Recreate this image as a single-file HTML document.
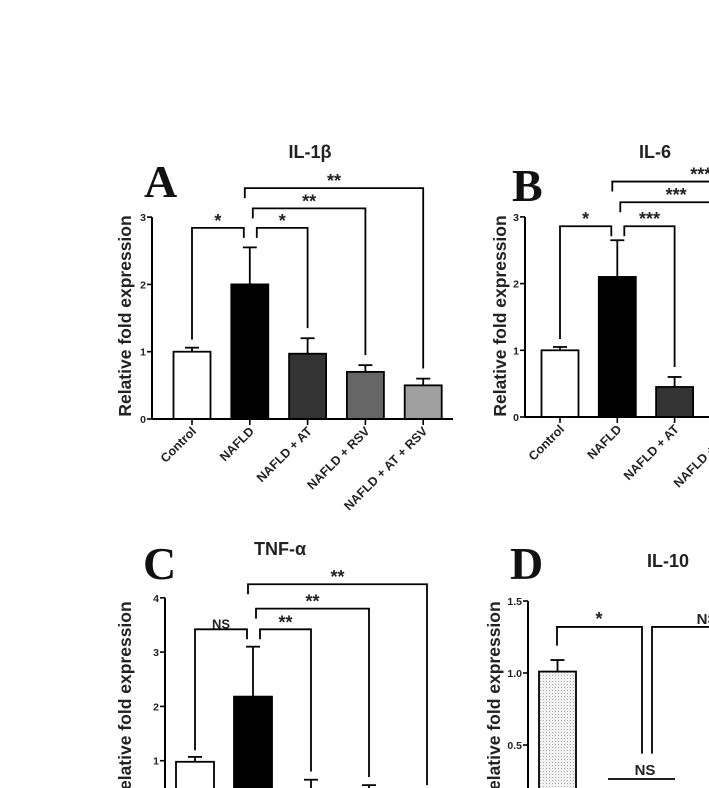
<!DOCTYPE html>
<html><head><meta charset="utf-8"><style>
html,body{margin:0;padding:0;background:#fff;width:709px;height:788px;overflow:hidden;}
svg{display:block;font-family:"Liberation Sans",Arial,sans-serif;}
</style></head><body>
<svg id="fig" width="709" height="788" viewBox="0 0 709 788" xmlns="http://www.w3.org/2000/svg">
<defs>
<pattern id="dots" width="3" height="3" patternUnits="userSpaceOnUse"><rect width="3" height="3" fill="#f2f2f2"/><rect width="1" height="1" fill="#aaa"/></pattern>
</defs>
</svg>
<script>
const groups = ["Control","NAFLD","NAFLD + AT","NAFLD + RSV","NAFLD + AT + RSV"];
const il1bValues = [1.0, 2.0, 0.97, 0.7, 0.5];
const il1bErrors = [0.06, 0.55, 0.23, 0.1, 0.1];
const il6Values = [1.0, 2.1, 0.45, 0.4, 0.4];
const il6Errors = [0.05, 0.55, 0.15, 0.1, 0.1];
const tnfValues = [0.98, 2.18, 0.45, 0.45, 0.3];
const tnfErrors = [0.09, 0.92, 0.2, 0.1, 0.1];
const il10Values = [1.01];
const il10Errors = [0.08];
const ticksA = [0,1,2,3];
const ticksB = [0,1,2,3];
const ticksC = [1,2,3,4];
const ticksD = ["0.5","1.0","1.5"];
// brackets: [fromIdx, toIdx, levelValue, label]
const bracketsA = [[0,1,2.84,"*"],[1,2,2.84,"*"],[1,3,3.13,"**"],[1,4,3.43,"**"]];
const bracketsB = [[0,1,2.86,"*"],[1,2,2.86,"***"],[1,3,3.22,"***"],[1,4,3.53,"***"]];
const bracketsC = [[0,1,3.42,"NS"],[1,2,3.42,"**"],[1,3,3.8,"**"],[1,4,4.25,"**"]];

const svg = document.getElementById('fig');
const NS = 'http://www.w3.org/2000/svg';
function mk(tag, attrs, parent){ const e=document.createElementNS(NS,tag); for(const k in attrs) e.setAttribute(k,attrs[k]); (parent||svg).appendChild(e); return e; }
function txt(str, attrs, parent){ const e=mk('text',attrs,parent); e.textContent=str; return e; }
const fills = ["#fff","#000","#333","#666","#a0a0a0"];

function panel(p){
  const g = mk('g',{});
  
  
  const y = v => p.y0 - v*p.unit;
  const x = i => p.c0 + i*p.step;
  const L = txt(p.letter,{x:p.letterX,y:p.letterY,'font-family':'"Liberation Serif",serif','font-weight':'bold','font-size':46,fill:'#111'},g);
  
  
  const T = txt(p.title,{x:p.titleX,y:p.titleY,'text-anchor':'middle','font-weight':'bold','font-size':18,fill:'#222'},g);
  
  
  const YL = txt("Relative fold expression",{x:0,y:0,'text-anchor':'middle','font-weight':'bold','font-size':17.5,fill:'#222',transform:`translate(${p.ylx},${p.yly}) rotate(-90)`},g);
  
  
  p.values.forEach((v,i)=>{
    const cx=x(i), w=p.bw;
    const top=y(v), et=y(v+p.errors[i]);
    const eb = mk('line',{x1:cx,x2:cx,y1:top,y2:et,stroke:'#000','stroke-width':1.8},g);
    
    
    mk('line',{x1:cx-7,x2:cx+7,y1:et,y2:et,stroke:'#000','stroke-width':1.8},g);
    const r = mk('rect',{x:cx-w/2,y:top,width:w,height:p.y0-top,fill:p.fills?p.fills[i]:fills[i],stroke:'#000','stroke-width':1.8},g);
    
    
    mk('line',{x1:cx,x2:cx,y1:p.y0,y2:p.y0+6,stroke:'#000','stroke-width':1.6},g);
    const xl = txt(groups[i],{x:0,y:0,'text-anchor':'end','font-weight':'bold','font-size':12.5,fill:'#222',transform:`translate(${cx+5},${p.y0+13}) rotate(-45)`},g);
    
    
  });
  const ya = mk('line',{x1:p.ax,x2:p.ax,y1:p.y0,y2:y(p.ymax),stroke:'#000','stroke-width':2},g);
  
  
  const xa = mk('line',{x1:p.ax,x2:p.xend,y1:p.y0,y2:p.y0,stroke:'#000','stroke-width':2},g);
  
  
  p.ticks.forEach(t=>{
    const v=parseFloat(t);
    mk('line',{x1:p.ax-5,x2:p.ax,y1:y(v),y2:y(v),stroke:'#000','stroke-width':1.6},g);
    const tl = txt(String(t),{x:p.ax-6,y:y(v)+4,'text-anchor':'end','font-weight':'bold','font-size':10.5,fill:'#222'},g);
    
    
  });
  (p.brackets||[]).forEach((b,k)=>{
    const off = [-10,7,3,-5][k];
    const lx = b[0]===1 ? x(1)+off : x(b[0]);
    const rx = x(b[1]);
    const ty = y(b[2]);
    const ly = b[0]===1 ? ty+10 : y(p.values[b[0]]+p.errors[b[0]]+0.12);
    const lyL = b[0]===0 ? y(p.values[0]+p.errors[0]+0.12) : ly;
    const lyR = b[1]===1 ? ty+10 : y(p.values[b[1]]+p.errors[b[1]]+0.15);
    const lxR = b[1]===1 ? x(1)-6 : rx;
    const pth = mk('path',{d:`M${lx},${lyL} V${ty} H${lxR} V${lyR}`,fill:'none',stroke:'#000','stroke-width':1.8},g);
    
    
    const s = txt(b[3],{x:(lx+lxR)/2,y:ty-1,'text-anchor':'middle','font-weight':'bold','font-size':b[3]==='NS'?13:18,fill:'#222'},g);
    
    
  });
  return {g,y,x};
}

panel({name:'panel-a-il1b',letter:'A',letterX:144,letterY:197,title:'IL-1β',titleX:310,titleY:158,
  ylx:131,yly:316,ax:152,y0:419,unit:67.3,ymax:3,c0:192,step:57.8,bw:37,xend:453,
  values:il1bValues,errors:il1bErrors,ticks:ticksA,brackets:bracketsA});
panel({name:'panel-b-il6',letter:'B',letterX:512,letterY:201,title:'IL-6',titleX:655,titleY:158,
  ylx:506,yly:316,ax:525,y0:417,unit:66.7,ymax:3,c0:560,step:57.3,bw:37,xend:709,
  values:il6Values,errors:il6Errors,ticks:ticksB,brackets:bracketsB});
panel({name:'panel-c-tnf',letter:'C',letterX:143,letterY:579,title:'TNF-α',titleX:280,titleY:555,
  ylx:131,yly:702,ax:165,y0:815,unit:54.3,ymax:4,c0:195,step:58,bw:38,xend:450,
  values:tnfValues,errors:tnfErrors,ticks:ticksC,brackets:bracketsC});
const d = panel({name:'panel-d-il10',letter:'D',letterX:510,letterY:579,title:'IL-10',titleX:668,titleY:567,
  ylx:500,yly:702,ax:528,y0:817,unit:144,ymax:1.5,c0:557.5,step:58,bw:37,xend:709,
  values:il10Values,errors:il10Errors,ticks:ticksD,fills:['url(#dots)']});
const b1 = mk('path',{d:`M557,${d.y(1.19)} V${d.y(1.32)} H642 V${d.y(0.44)}`,fill:'none',stroke:'#000','stroke-width':1.8},d.g);


const s1 = txt('*',{x:599,y:d.y(1.32)-2,'text-anchor':'middle','font-weight':'bold','font-size':18,fill:'#222'},d.g);


const b2 = mk('path',{d:`M652,${d.y(0.44)} V${d.y(1.32)} H709`,fill:'none',stroke:'#000','stroke-width':1.8},d.g);


const s2 = txt('NS',{x:707,y:d.y(1.32)-3,'text-anchor':'middle','font-weight':'bold','font-size':15,fill:'#222'},d.g);


const b3 = mk('line',{x1:608,x2:675,y1:779,y2:779,stroke:'#000','stroke-width':1.8},d.g);


const s3 = txt('NS',{x:645,y:775,'text-anchor':'middle','font-weight':'bold','font-size':15,fill:'#222'},d.g);


</script>
</body></html>
